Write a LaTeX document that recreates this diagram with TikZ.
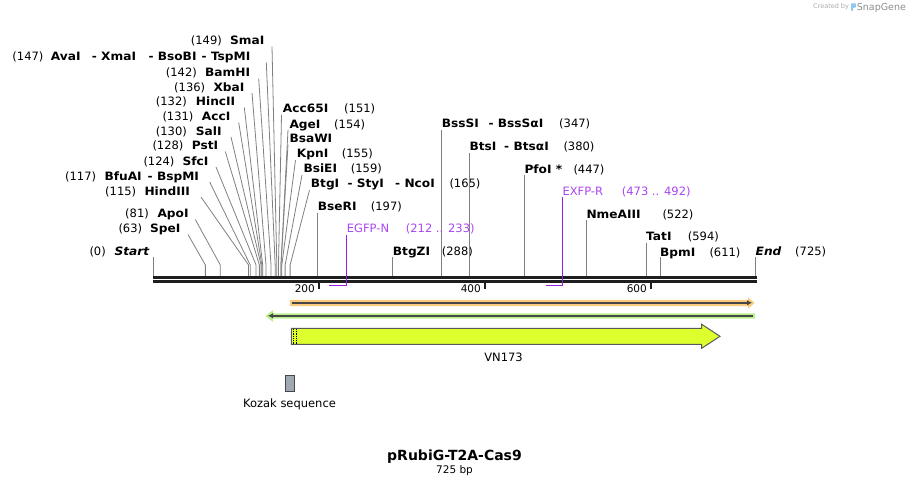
\documentclass[tikz,border=0pt]{standalone}
\usepackage{fontspec}
\setmainfont{DejaVu Sans}
\newfontfamily\namefont[FakeStretch=1.06]{DejaVu Sans}
\usetikzlibrary{arrows.meta}
\definecolor{sitegray}{RGB}{128,128,128}
\definecolor{mapcol}{RGB}{30,30,30}
\definecolor{primertxt}{RGB}{170,70,240}
\definecolor{primerln}{RGB}{150,30,230}
\definecolor{orangeband}{RGB}{252,202,125}
\definecolor{greenband}{RGB}{185,240,140}
\definecolor{darkln}{RGB}{70,70,70}
\definecolor{featyellow}{RGB}{222,255,46}
\definecolor{featborder}{RGB}{90,90,90}
\definecolor{kozakgray}{RGB}{160,168,178}
\definecolor{credgray}{RGB}{170,170,170}
\definecolor{snapgray}{RGB}{140,140,140}
\definecolor{logoblue}{RGB}{140,200,240}
\tikzset{
  numtxt/.style={inner sep=0pt, font=\fontsize{11.5}{13}\selectfont},
  nametxt/.style={inner sep=0pt, font=\fontsize{11.5}{13}\namefont\bfseries},
  primtxt/.style={inner sep=0pt, font=\fontsize{11.5}{13}\selectfont, text=primertxt},
  siteline/.style={draw=sitegray, line width=0.8pt},
  primline/.style={draw=primerln, line width=1.4pt},
  mapline/.style={draw=mapcol, line width=2.5pt},
  tickln/.style={draw=mapcol, line width=2pt},
  darkline/.style={draw=darkln, line width=1.8pt},
  plaintxt/.style={inner sep=0pt, font=\fontsize{11.5}{13}\selectfont},
}
\newcommand{\sitelab}[5]{\node[#5,anchor=base west] (#1) at (#2,{#3+4}) {#4};}
\newcommand{\fanln}[4]{%
  \coordinate (#1T) at (#2,#3);
  \coordinate (#1B) at ({153+0.831*#4},265);
  \coordinate (#1M) at ({153+0.831*#4},276.5);
  \draw[siteline] (#1T) -- (#1B) -- (#1M);}
\newcommand{\vsiteln}[3]{%
  \coordinate (#1T) at (#2,#3);
  \coordinate (#1M) at (#2,276.5);
  \draw[siteline] (#1T) -- (#1M);}
\begin{document}
\begin{tikzpicture}[x=1pt,y=-1pt]
\useasboundingbox (0,0) rectangle (910,486);
% ---------- left fan group ----------
\sitelab{smaP}{190.7}{41}{(149)}{numtxt}
\sitelab{smaN}{230}{41}{SmaI}{nametxt}
\fanln{sma}{272}{46.5}{149}
\sitelab{avaP}{12.3}{57}{(147)}{numtxt}
\sitelab{avaN}{50.7}{57}{AvaI}{nametxt}
\sitelab{xmaN}{91.7}{57}{- XmaI}{nametxt}
\sitelab{bsobN}{148.3}{57}{- BsoBI}{nametxt}
\sitelab{tspN}{201.5}{57}{- TspMI}{nametxt}
\fanln{ava}{266.3}{62.5}{147}
\sitelab{bamP}{165.7}{73}{(142)}{numtxt}
\sitelab{bamN}{205}{73}{BamHI}{nametxt}
\fanln{bam}{258.7}{78.5}{142}
\sitelab{xbaP}{174}{87.5}{(136)}{numtxt}
\sitelab{xbaN}{213.3}{87.5}{XbaI}{nametxt}
\fanln{xba}{252}{93}{136}
\sitelab{hincP}{155.7}{102}{(132)}{numtxt}
\sitelab{hincN}{195.7}{102}{HincII}{nametxt}
\fanln{hinc}{244.3}{107.5}{132}
\sitelab{accP}{162.3}{117}{(131)}{numtxt}
\sitelab{accN}{201.7}{117}{AccI}{nametxt}
\fanln{acc}{238.7}{122.5}{131}
\sitelab{salP}{155.7}{131.5}{(130)}{numtxt}
\sitelab{salN}{195.7}{131.5}{SalI}{nametxt}
\fanln{sal}{231}{137}{130}
\sitelab{pstP}{152.3}{146}{(128)}{numtxt}
\sitelab{pstN}{191.7}{146}{PstI}{nametxt}
\fanln{pst}{225.3}{151.5}{128}
\sitelab{sfcP}{143.3}{161.5}{(124)}{numtxt}
\sitelab{sfcN}{182.3}{161.5}{SfcI}{nametxt}
\fanln{sfc}{216}{167}{124}
\sitelab{bfuP}{65}{176.5}{(117)}{numtxt}
\sitelab{bfuN}{104.3}{176.5}{BfuAI}{nametxt}
\sitelab{bspmN}{147.5}{176.5}{- BspMI}{nametxt}
\fanln{bfu}{209.7}{182}{117}
\sitelab{hindP}{105}{191.5}{(115)}{numtxt}
\sitelab{hindN}{144.3}{191.5}{HindIII}{nametxt}
\fanln{hind}{201}{197}{115}
\sitelab{apoP}{125}{214}{(81)}{numtxt}
\sitelab{apoN}{157.3}{214}{ApoI}{nametxt}
\fanln{apo}{195.3}{219.5}{81}
\sitelab{speP}{118.3}{229}{(63)}{numtxt}
\sitelab{speN}{150}{229}{SpeI}{nametxt}
\fanln{spe}{188}{234.5}{63}
\sitelab{startP}{89.3}{251.7}{(0)}{numtxt}
\sitelab{startN}{114.3}{251.7}{\itshape Start}{nametxt}
\vsiteln{start}{153.3}{257}
% ---------- right fan group ----------
\sitelab{acc65N}{282.7}{109}{Acc65I}{nametxt}
\sitelab{acc65P}{344}{109}{(151)}{numtxt}
\fanln{acc65}{281.5}{115}{151}
\sitelab{ageN}{289.3}{124.3}{AgeI}{nametxt}
\sitelab{ageP}{334}{124.3}{(154)}{numtxt}
\fanln{age}{288}{130}{154}
\sitelab{bsawN}{289.3}{138.5}{BsaWI}{nametxt}
\fanln{bsaw}{288}{144.5}{154}
\sitelab{kpnN}{296.7}{154}{KpnI}{nametxt}
\sitelab{kpnP}{341.7}{154}{(155)}{numtxt}
\fanln{kpn}{295.5}{160}{155}
\sitelab{bsieN}{303.3}{169}{BsiEI}{nametxt}
\sitelab{bsieP}{350.7}{169}{(159)}{numtxt}
\fanln{bsie}{302}{175}{159}
\sitelab{btgN}{310.7}{184}{BtgI}{nametxt}
\sitelab{styN}{347.3}{184}{- StyI}{nametxt}
\sitelab{ncoN}{395}{184}{- NcoI}{nametxt}
\sitelab{btgP}{449.3}{184}{(165)}{numtxt}
\fanln{btg}{309.5}{190}{165}
% ---------- vertical sites ----------
\sitelab{bseN}{317.7}{206.7}{BseRI}{nametxt}
\sitelab{bseP}{370.7}{206.7}{(197)}{numtxt}
\vsiteln{bse}{317.7}{212.7}
\sitelab{btgzN}{392.7}{251.7}{BtgZI}{nametxt}
\sitelab{btgzP}{441.7}{251.7}{(288)}{numtxt}
\vsiteln{btgz}{392.7}{257.5}
\sitelab{bsssN}{441.7}{124}{BssSI}{nametxt}
\sitelab{bsssaN}{488.3}{124}{- BssSαI}{nametxt}
\sitelab{bsssP}{559}{124}{(347)}{numtxt}
\vsiteln{bsss}{441.7}{130.5}
\sitelab{btsN}{469.3}{146.7}{BtsI}{nametxt}
\sitelab{btsaN}{504}{146.7}{- BtsαI}{nametxt}
\sitelab{btsP}{563.3}{146.7}{(380)}{numtxt}
\vsiteln{bts}{469.3}{153}
\sitelab{pfoN}{524.3}{169.3}{PfoI *}{nametxt}
\sitelab{pfoP}{573.3}{169.3}{(447)}{numtxt}
\vsiteln{pfo}{524.3}{175.3}
\sitelab{nmeN}{586.3}{214.3}{NmeAIII}{nametxt}
\sitelab{nmeP}{662.3}{214.3}{(522)}{numtxt}
\vsiteln{nme}{586.3}{220.3}
\sitelab{tatN}{646}{237}{TatI}{nametxt}
\sitelab{tatP}{687.7}{237}{(594)}{numtxt}
\vsiteln{tat}{646}{243}
\sitelab{bpmN}{660}{252.3}{BpmI}{nametxt}
\sitelab{bpmP}{709.3}{252.3}{(611)}{numtxt}
\vsiteln{bpm}{660}{257.5}
\sitelab{endN}{755.5}{252}{\itshape End}{nametxt}
\sitelab{endP}{795}{252}{(725)}{numtxt}
\vsiteln{end}{755.5}{257.5}
% ---------- map ----------
\coordinate (mapA) at (153,277.3);
\coordinate (mapB) at (756.5,277.3);
\coordinate (mapC) at (153,281.3);
\coordinate (mapD) at (756.5,281.3);
\draw[mapline] (mapA) -- (mapB);
\draw[mapline] (mapC) -- (mapD);
% ticks
\coordinate (t2a) at (319,282.3); \coordinate (t2b) at (319,289.5);
\coordinate (t4a) at (485,282.3); \coordinate (t4b) at (485,289.5);
\coordinate (t6a) at (651,282.3); \coordinate (t6b) at (651,289.5);
\draw[tickln] (t2a) -- (t2b);
\draw[tickln] (t4a) -- (t4b);
\draw[tickln] (t6a) -- (t6b);
\node[numtxt, anchor=base east, font=\fontsize{10.5}{12}\selectfont] (tl2) at (315,293) {200};
\node[numtxt, anchor=base east, font=\fontsize{10.5}{12}\selectfont] (tl4) at (481,293) {400};
\node[numtxt, anchor=base east, font=\fontsize{10.5}{12}\selectfont] (tl6) at (647,293) {600};
% ---------- primers ----------
\sitelab{egfpN}{346.7}{229}{EGFP-N}{primtxt}
\sitelab{egfpP}{405.7}{229}{(212 .. 233)}{primtxt}
\coordinate (egfpT) at (346.7,235);
\coordinate (egfpC) at (346.7,285.7);
\coordinate (egfpE) at (329.3,285.7);
\draw[primline] (egfpT) -- (egfpC) -- (egfpE);
\sitelab{exfpN}{562.3}{191.7}{EXFP-R}{primtxt}
\sitelab{exfpP}{621.7}{191.7}{(473 .. 492)}{primtxt}
\coordinate (exfpT) at (562.3,197.5);
\coordinate (exfpC) at (562.3,285.7);
\coordinate (exfpE) at (545.5,285.7);
\draw[primline] (exfpT) -- (exfpC) -- (exfpE);
% ---------- features ----------
\fill[orangeband] (290,300) -- (748,300) -- (748,297.3) -- (754.5,303) -- (748,308.7) -- (748,306) -- (290,306) -- cycle;
\coordinate (oraA) at (291.5,302.8);
\coordinate (oraB) at (752,302.8);
\draw[darkline, -{Latex[length=5pt,width=5.5pt]}] (oraA) -- (oraB);
\fill[greenband] (755,313.3) -- (273,313.3) -- (273,310) -- (265.5,316) -- (273,322) -- (273,318.7) -- (755,318.7) -- cycle;
\coordinate (grnA) at (268,315.8);
\coordinate (grnB) at (753,315.8);
\draw[darkline, {Latex[length=5pt,width=5.5pt]}-] (grnA) -- (grnB);
\draw[draw=featborder, line width=1pt, fill=featyellow] (291.3,328.3) -- (701.7,328.3) -- (701.7,324.3) -- (720,336.3) -- (701.7,348.3) -- (701.7,344.3) -- (291.3,344.3) -- cycle;
\coordinate (dot1a) at (293.6,329); \coordinate (dot1b) at (293.6,343.6);
\coordinate (dot2a) at (296.8,329); \coordinate (dot2b) at (296.8,343.6);
\draw[black, densely dotted, line width=0.8pt] (dot1a) -- (dot1b);
\draw[black, densely dotted, line width=0.8pt] (dot2a) -- (dot2b);
\node[plaintxt] (vn) at (503.5,357.5) {VN173};
% Kozak
\draw[draw=darkln, line width=0.8pt, fill=kozakgray] (285.7,375) rectangle (294,391);
\node[plaintxt] (kozak) at (289.5,404.5) {Kozak sequence};
% ---------- title ----------
\node[inner sep=0pt, anchor=base, font=\fontsize{14}{16}\selectfont\bfseries] (title) at (454.5,460.5) {pRubiG-T2A-Cas9};
\node[inner sep=0pt, font=\fontsize{10.5}{12}\selectfont] (bp) at (454.5,470.5) {725 bp};
% ---------- credit ----------
\node[inner sep=0pt, anchor=west, text=credgray, font=\fontsize{6.5}{7}\selectfont] (cred) at (813,7) {Created by};
\fill[logoblue, rounded corners=0.6pt] (851,3.3) -- (855.8,3.3) -- (855.8,7.6) -- (853.2,7.6) -- (853.2,10.8) -- (851,10.8) -- cycle;
\node[inner sep=0pt, anchor=west, text=snapgray, font=\fontsize{9.5}{10}\selectfont] (snap) at (856.7,7.5) {SnapGene};
\end{tikzpicture}
\end{document}
